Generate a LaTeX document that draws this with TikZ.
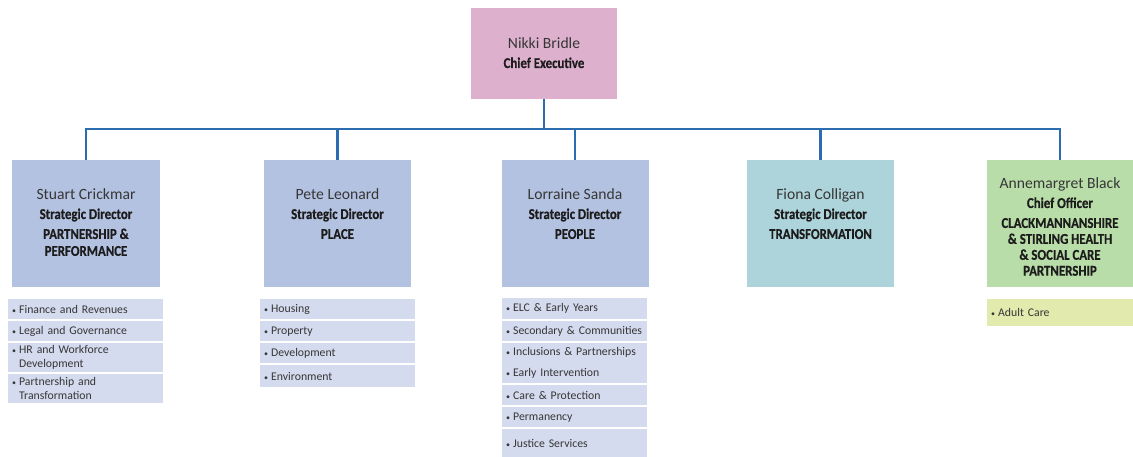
\documentclass[tikz,border=0pt]{standalone}
\usepackage{fontspec}
\setmainfont{Carlito}
\newfontfamily\condfont{Carlito}[FakeStretch=0.86,FakeBold=0.5]
\newfontfamily\listfont{Carlito}[WordSpace=0.85]
\definecolor{pinkbox}{HTML}{DDB0CE}
\definecolor{bluebox}{HTML}{B4C2E2}
\definecolor{tealbox}{HTML}{ADD4DA}
\definecolor{greenbox}{HTML}{B8DDA8}
\definecolor{bluerow}{HTML}{D4DBEE}
\definecolor{limerow}{HTML}{E2EAAE}
\definecolor{linkblue}{HTML}{2B6DB0}
\definecolor{ink}{HTML}{363636}
\definecolor{inkdark}{HTML}{1C1C1C}
\newcommand{\namefont}{\fontsize{15.7}{20}\selectfont}
\newcommand{\rolefont}{\condfont\bfseries\color{inkdark}}
\newcommand{\listdot}{{\fontsize{8}{8}\selectfont\textbullet}\hspace{3bp}}

\begin{document}
\begin{tikzpicture}[x=1bp, y=-1bp,
		dirbox/.style={minimum width=147bp, minimum height=127bp, inner sep=0pt, anchor=north},
		headtext/.style={anchor=north, align=center, inner sep=0pt, text=ink, font=\fontsize{15}{20}\selectfont},
		listrow/.style={anchor=north west, inner xsep=4bp, inner ysep=0pt, text width=#1, align=left, text=ink, fill=bluerow, font=\listfont\fontsize{11.8}{14}\selectfont},
		listrow/.default=147bp,
		bus/.style={draw=linkblue, line width=2.6bp}]
			\useasboundingbox (0,0) rectangle (1133,457);

			\node[dirbox,fill=pinkbox,minimum width=146bp,minimum height=91bp] (ceo) at (544,8) {};
			\node[dirbox,fill=bluebox] (dir1) at (86,160) {};
			\node[dirbox,fill=bluebox] (dir2) at (337.5,160) {};
			\node[dirbox,fill=bluebox] (dir3) at (575,160) {};
			\node[dirbox,fill=tealbox] (dir4) at (820.5,160) {};
			\node[dirbox,fill=greenbox] (dir5) at (1060,160) {};

			\node[headtext] (ceotxt) at (544,37) {{\namefont Nikki Bridle}\\{\rolefont Chief Executive}};
			\node[headtext] (dir1txt) at (86,188) {{\namefont Stuart Crickmar}\\{\rolefont Strategic Director}\\{\rolefont PARTNERSHIP \&}\\[-3bp]{\rolefont PERFORMANCE}};
			\node[headtext] (dir2txt) at (337.5,188) {{\namefont Pete Leonard}\\{\rolefont Strategic Director}\\{\rolefont PLACE}};
			\node[headtext] (dir3txt) at (575,188) {{\namefont Lorraine Sanda}\\{\rolefont Strategic Director}\\{\rolefont PEOPLE}};
			\node[headtext] (dir4txt) at (820.5,188) {{\namefont Fiona Colligan}\\{\rolefont Strategic Director}\\{\rolefont TRANSFORMATION}};
			\node[headtext] (dir5txt) at (1060,177) {{\namefont Annemargret Black}\\{\rolefont Chief Officer}\\{\rolefont CLACKMANNANSHIRE}\\[-4bp]{\rolefont \& STIRLING HEALTH}\\[-4bp]{\rolefont \& SOCIAL CARE}\\[-4bp]{\rolefont PARTNERSHIP}};

			% services under each director
			\node[listrow,minimum height=20bp] (sv11) at (8,299) {\listdot Finance and Revenues};
			\node[listrow,minimum height=20bp] (sv12) at (8,321) {\listdot Legal and Governance};
			\node[listrow,minimum height=29bp] (sv13) at (8,343) {\listdot HR and Workforce\\\hphantom{\listdot}Development};
			\node[listrow,minimum height=29bp] (sv14) at (8,374) {\listdot Partnership and\\\hphantom{\listdot}Transformation};

			\node[listrow,minimum height=20bp] (sv21) at (260,299) {\listdot Housing};
			\node[listrow,minimum height=20bp] (sv22) at (260,321) {\listdot Property};
			\node[listrow,minimum height=20bp] (sv23) at (260,343) {\listdot Development};
			\node[listrow,minimum height=22bp] (sv24) at (260,365) {\listdot Environment};

			\node[listrow=137bp,minimum height=21bp] (sv31) at (502,298) {\listdot ELC \& Early Years};
			\node[listrow=137bp,minimum height=20bp] (sv32) at (502,321) {\listdot Secondary \& Communities};
			\node[listrow=137bp,minimum height=40bp] (sv33) at (502,343) {\listdot Inclusions \& Partnerships\\[7bp]\listdot Early Intervention};
			\node[listrow=137bp,minimum height=20bp] (sv34) at (502,385) {\listdot Care \& Protection};
			\node[listrow=137bp,minimum height=20bp] (sv35) at (502,407) {\listdot Permanency};
			\node[listrow=137bp,minimum height=28bp] (sv36) at (502,429) {\listdot Justice Services};

			\node[listrow=138bp,minimum height=27bp,fill=limerow] (sv51) at (987,299) {\listdot Adult Care};

			\coordinate (hub) at (544,129);
			\draw[bus] (ceo.south) -- (hub);
			\draw[bus] (dir1.north) |- (hub) -| (dir5.north);
			\draw[bus] (dir2.north) -- (dir2.north |- hub);
			\draw[bus] (dir3.north) -- (dir3.north |- hub);
			\draw[bus] (dir4.north) -- (dir4.north |- hub);
		\end{tikzpicture}
\end{document}
